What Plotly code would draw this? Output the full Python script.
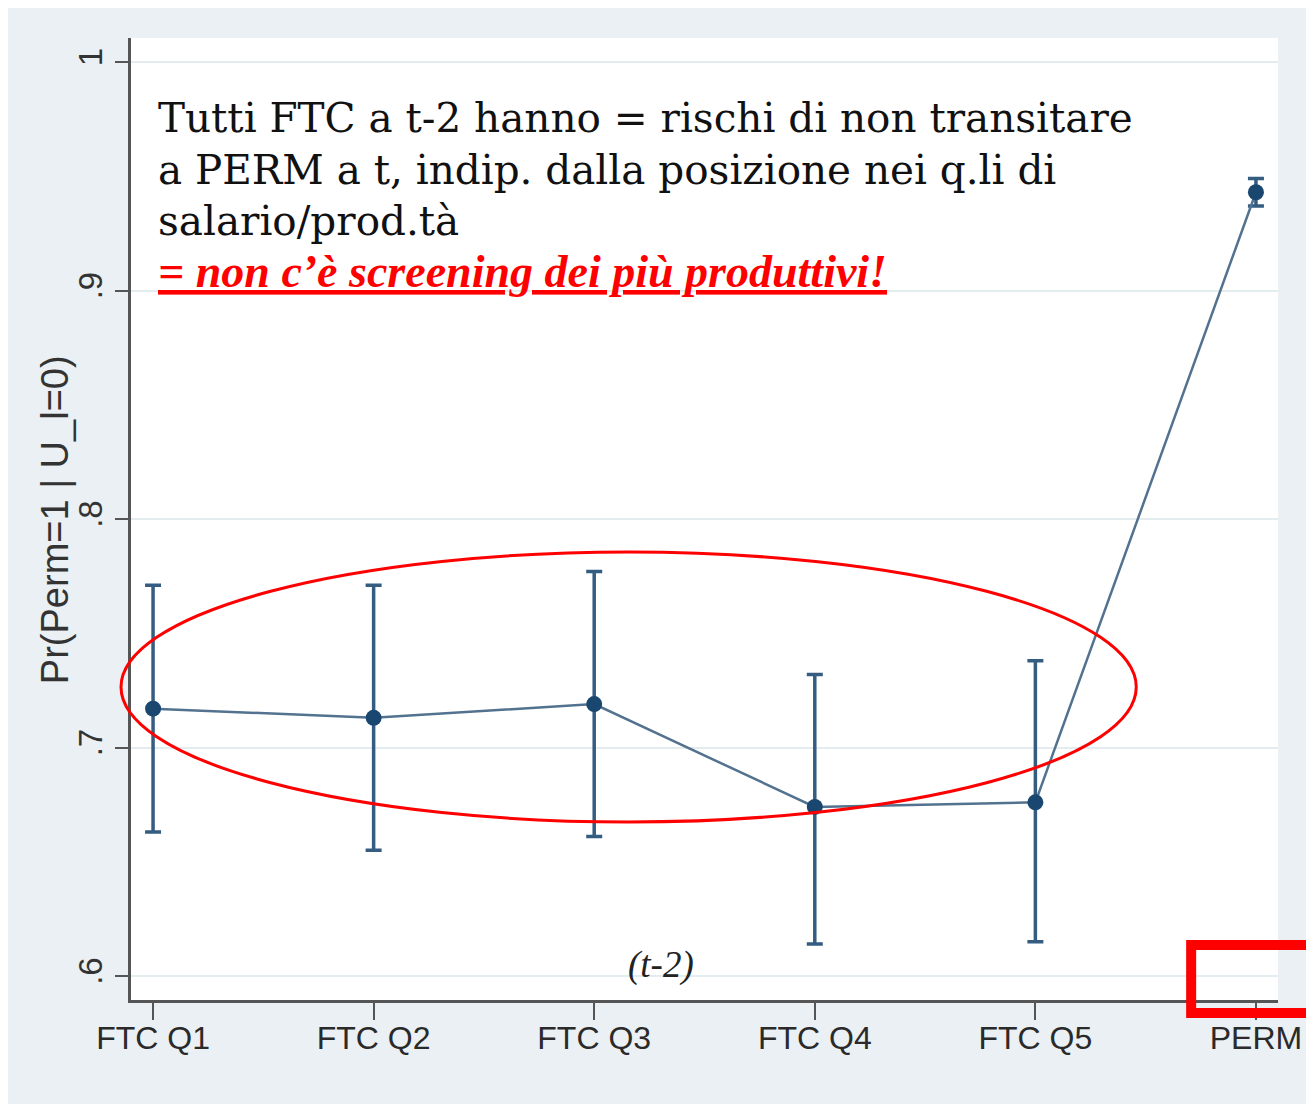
import plotly.graph_objects as go

# categories and estimates
categories = ["FTC Q1", "FTC Q2", "FTC Q3", "FTC Q4", "FTC Q5", "PERM"]
prob = [0.717, 0.713, 0.719, 0.674, 0.676, 0.943]
ci_upper = [0.771, 0.771, 0.777, 0.732, 0.738, 0.949]
ci_lower = [0.663, 0.655, 0.661, 0.614, 0.615, 0.937]
y_ticks = [0.6, 0.7, 0.8, 0.9, 1.0]
y_tick_labels = [".6", ".7", ".8", ".9", "1"]

note_lines = [
    "Tutti FTC a t-2 hanno = rischi di non transitare",
    "a PERM a t, indip. dalla posizione nei q.li di",
    "salario/prod.tà",
]
note_red = "= non c\u2019è screening dei più produttivi!"

x_pos = list(range(len(categories)))
err_plus = [u - p for u, p in zip(ci_upper, prob)]
err_minus = [p - l for p, l in zip(prob, ci_lower)]

NAVY = "#1a476f"
BG = "#eaf0f3"

# plot area in page pixels (page body adds an 8px margin)
PL, PR, PT, PB = 131, 1280, 38, 1000
PW, PH = PR - PL, PB - PT


def px(x):
    return (x - PL) / PW


def py(y):
    return (PB - y) / PH


fig = go.Figure()

# confidence intervals
fig.add_trace(
    go.Scatter(
        x=x_pos,
        y=prob,
        mode="markers",
        marker={"size": 0.1, "color": "rgba(0,0,0,0)"},
        error_y={
            "type": "data",
            "symmetric": False,
            "array": err_plus,
            "arrayminus": err_minus,
            "color": "#355d82",
            "thickness": 3.5,
            "width": 8,
        },
        showlegend=False,
        hoverinfo="skip",
    )
)

# point estimates
fig.add_trace(
    go.Scatter(
        x=x_pos,
        y=prob,
        mode="lines+markers",
        line={"color": "#52728f", "width": 2.5},
        marker={"size": 16, "color": NAVY},
        showlegend=False,
    )
)

line_y = [118, 170, 221]
annotations = []
for txt, yp in zip(note_lines, line_y):
    annotations.append(
        dict(
            text=txt,
            xref="paper",
            yref="paper",
            x=px(156),
            y=py(yp),
            xanchor="left",
            yanchor="middle",
            showarrow=False,
            font={"family": "DejaVu Serif", "size": 40.5, "color": "#111111"},
        )
    )
annotations.append(
    dict(
        text=note_red,
        xref="paper",
        yref="paper",
        x=px(156),
        y=py(271),
        xanchor="left",
        yanchor="middle",
        showarrow=False,
        font={
            "family": "Liberation Serif",
            "size": 46,
            "color": "#ff0000",
            "style": "italic",
            "weight": "bold",
            "lineposition": "under",
        },
    )
)
annotations.append(
    dict(
        text="<i>(t-2)</i>",
        xref="paper",
        yref="paper",
        x=px(662),
        y=py(965),
        xanchor="center",
        yanchor="middle",
        showarrow=False,
        font={"family": "Liberation Serif", "size": 37, "color": "#222222"},
    )
)
# y axis title
annotations.append(
    dict(
        text="Pr(Perm=1 | U_l=0)",
        xref="paper",
        yref="paper",
        x=px(55),
        y=py(520),
        xanchor="center",
        yanchor="middle",
        textangle=-90,
        showarrow=False,
        font={"family": "Liberation Sans", "size": 38, "color": "#333333"},
    )
)

shapes = [
    # red ellipse around FTC estimates
    dict(type="circle", xref="paper", yref="paper",
         x0=px(121), x1=px(1138), y0=py(822), y1=py(552),
         line={"color": "#ff0000", "width": 3}),
    # red box at bottom right
    dict(type="rect", xref="paper", yref="paper",
         x0=px(1193), x1=px(1322), y0=py(1013), y1=py(945),
         line={"color": "#ff0000", "width": 10}),
]

fig.update_layout(
    width=1306,
    height=1096,
    margin={"l": PL - 8, "r": 1314 - PR, "t": PT - 8, "b": 1104 - PB},
    paper_bgcolor=BG,
    plot_bgcolor="white",
    annotations=annotations,
    shapes=shapes,
    font={"family": "Liberation Sans", "color": "#333333"},
)

fig.update_xaxes(
    range=[-0.1, 5.1],
    tickvals=x_pos,
    ticktext=categories,
    ticks="outside",
    ticklen=17,
    tickwidth=2,
    tickcolor="#555555",
    tickfont={"size": 32, "color": "#2a2a2a"},
    ticklabelstandoff=-9,
    showline=True,
    linecolor="#555555",
    linewidth=2.5,
    showgrid=False,
    zeroline=False,
)

fig.update_yaxes(
    range=[0.5895, 1.0105],
    tickvals=y_ticks,
    ticktext=y_tick_labels,
    tickangle=-90,
    ticks="outside",
    ticklen=13,
    tickwidth=2,
    tickcolor="#555555",
    tickfont={"size": 33, "color": "#333333"},
    showline=True,
    linecolor="#555555",
    linewidth=2.5,
    showgrid=True,
    gridcolor="#e3ecef",
    gridwidth=2,
    zeroline=False,
)

fig.write_html("out.html")
